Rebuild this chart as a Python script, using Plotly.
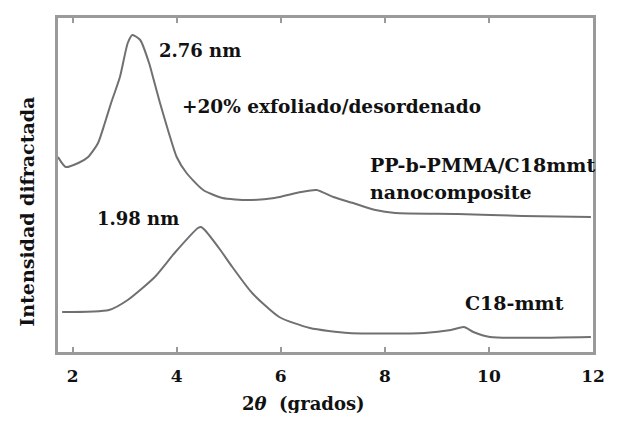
import plotly.graph_objects as go

# 2-theta (degrees) and diffracted intensity (arbitrary units)
nano_2theta = [1.72, 1.87, 2.11, 2.30, 2.49, 2.62, 2.74, 2.91, 3.06, 3.15, 3.30, 3.47, 3.56, 3.68,
               3.85, 4.00, 4.19, 4.51, 4.88, 5.37, 5.88, 6.39, 6.69, 7.01, 7.39, 7.82, 8.20, 9.40,
               10.65, 11.96]
nano_intensity = [195, 185, 189, 195, 209, 229, 249, 275, 309, 317, 312, 289, 272, 249,
                  219, 195, 179, 162, 154, 152, 154, 160, 162, 155, 149, 142, 139, 138,
                  136, 135]

c18_2theta = [1.80, 2.70, 3.06, 3.58, 3.96, 4.41, 4.47, 4.54, 4.84, 5.07, 5.45, 5.97, 6.56,
              7.31, 8.76, 9.27, 9.52, 9.70, 10.02, 11.96]
c18_intensity = [40, 42, 52, 75, 99, 124, 125, 122, 102, 85, 59, 35, 24,
                 19, 19, 22, 25, 20, 15, 15]

x_ticks = [2, 4, 6, 8, 10, 12]

SERIF = "DejaVu Serif"
line_color = "#707070"
frame_color = "#9a9a9a"

fig = go.Figure()
fig.add_trace(go.Scatter(x=nano_2theta, y=nano_intensity, mode="lines",
                         line=dict(color=line_color, width=2, shape="spline", smoothing=0.6),
                         showlegend=False, hoverinfo="skip"))
fig.add_trace(go.Scatter(x=c18_2theta, y=c18_intensity, mode="lines",
                         line=dict(color=line_color, width=2, shape="spline", smoothing=0.6),
                         showlegend=False, hoverinfo="skip"))

def label(text, x, y, size=19, xanchor="left"):
    fig.add_annotation(x=x, y=y, xref="x", yref="y", text=text, showarrow=False,
                       xanchor=xanchor, yanchor="middle",
                       font=dict(family=SERIF, size=size, color="#111", weight="bold"))

label("2.76 nm", 3.62, 302, size=18)
label("+20% exfoliado/desordenado", 4.07, 246, size=18.5)
label("PP-b-PMMA/C18mmt", 7.68, 187)
label("nanocomposite", 7.68, 160)
label("1.98 nm", 2.43, 134, size=18)
label("C18-mmt", 9.50, 49)

fig.add_annotation(x=-0.058, y=0.42, xref="paper", yref="paper", text="Intensidad difractada",
                   textangle=-90, showarrow=False, xanchor="center", yanchor="middle",
                   font=dict(family=SERIF, size=19, color="#111", weight="bold"))
fig.add_annotation(x=0.459, y=-0.153, xref="paper", yref="paper",
                   text="2<i>θ</i>  (grados)", showarrow=False, xanchor="center", yanchor="middle",
                   font=dict(family=SERIF, size=18, color="#111", weight="bold"))

fig.update_xaxes(range=[1.72, 12.0], tickvals=x_ticks, ticktext=[str(t) for t in x_ticks],
                 showgrid=False, zeroline=False, showline=True, linecolor=frame_color, linewidth=2.5,
                 mirror="ticks", ticks="inside", ticklen=5, tickcolor=frame_color, tickwidth=1.5,
                 tickfont=dict(family=SERIF, size=17, color="#111", weight="bold"),
                 ticklabelstandoff=7, ticklabeloverflow="allow", fixedrange=True)
fig.update_yaxes(range=[0, 334], showticklabels=False, ticks="", showgrid=False, zeroline=False,
                 showline=True, linecolor=frame_color, linewidth=2.5, mirror=True, fixedrange=True)

# the page body adds 8px margins on every side, so the figure is sized to fit the window exactly
fig.update_layout(width=604, height=405, margin=dict(l=50, r=7, t=10, b=61),
                  paper_bgcolor="white", plot_bgcolor="white")

fig.write_html("out.html", config={"displayModeBar": False})
